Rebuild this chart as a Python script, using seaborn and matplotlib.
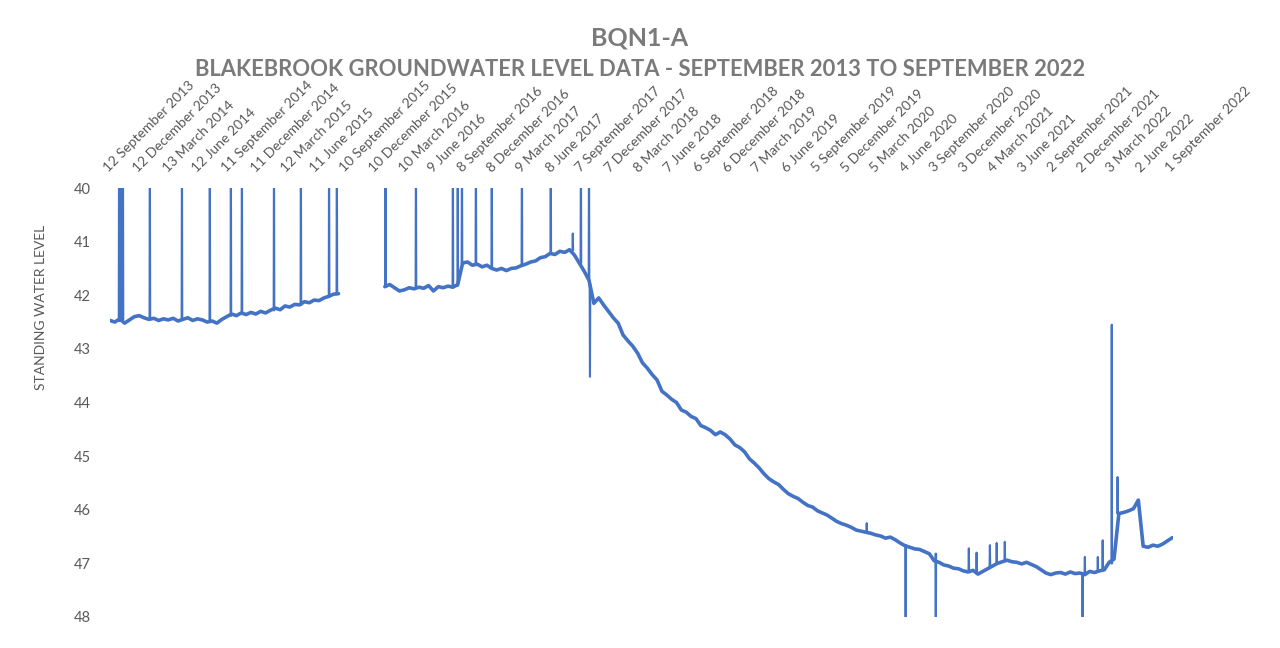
import pandas as pd
import seaborn as sns
import matplotlib.pyplot as plt
import matplotlib.dates as mdates

# Logger readings (every 15 days), day 0 = 12 Sep 2013
start = pd.Timestamp("2013-09-12")
step_days = 15

# first run, up to Aug 2015 (then a gap in the record)
seg_a_day0 = 0
seg_a_level = [42.47, 42.50, 42.44, 42.52, 42.46, 42.40, 42.38, 42.42, 42.45,
               42.43, 42.47, 42.44, 42.46, 42.43, 42.48, 42.45, 42.42, 42.47,
               42.44, 42.46, 42.50, 42.48, 42.52, 42.45, 42.40,
               42.35, 42.38, 42.33, 42.36, 42.32, 42.35, 42.30, 42.33, 42.28,
               42.24, 42.27, 42.20, 42.22, 42.17, 42.18, 42.12, 42.14, 42.09,
               42.10, 42.05, 42.02, 41.98, 41.97]

# second run, Jan 2016 to Sep 2022
seg_b_day0 = 848
seg_b_level = [41.84, 41.80, 41.86, 41.92, 41.90, 41.86, 41.88, 41.85, 41.87, 41.82,
               41.92, 41.84, 41.86, 41.83, 41.85, 41.80, 41.40, 41.38, 41.44, 41.42,
               41.47, 41.44, 41.50, 41.53, 41.50, 41.54, 41.50, 41.49, 41.45, 41.42,
               41.38, 41.36, 41.30, 41.28, 41.22, 41.24, 41.18, 41.20, 41.15, 41.25,
               41.40, 41.55, 41.72, 42.15, 42.05, 42.18, 42.30, 42.42, 42.52, 42.74,
               42.85, 42.95, 43.08, 43.26, 43.36, 43.48, 43.58, 43.79, 43.86, 43.94,
               44.00, 44.14, 44.18, 44.26, 44.30, 44.43, 44.47, 44.52, 44.60, 44.55,
               44.60, 44.68, 44.79, 44.84, 44.92, 45.05, 45.13, 45.22, 45.33, 45.42,
               45.48, 45.53, 45.62, 45.70, 45.75, 45.79, 45.86, 45.92, 45.95, 46.02,
               46.06, 46.10, 46.16, 46.22, 46.26, 46.29, 46.33, 46.38, 46.40, 46.42,
               46.44, 46.47, 46.49, 46.53, 46.51, 46.56, 46.62, 46.67, 46.70, 46.73,
               46.74, 46.78, 46.82, 46.95, 46.98, 47.03, 47.05, 47.09, 47.10, 47.14,
               47.16, 47.13, 47.20, 47.15, 47.10, 47.05, 47.00, 46.97, 46.94, 46.97,
               46.98, 47.01, 46.98, 47.02, 47.06, 47.12, 47.18, 47.21, 47.18, 47.17,
               47.20, 47.16, 47.19, 47.18, 47.21, 47.15, 47.17, 47.14, 47.12, 46.98,
               46.92, 46.07, 46.05, 46.02, 45.98, 45.82, 46.68, 46.70, 46.66, 46.68,
               46.64, 46.58, 46.52]

# single-reading spikes: day, surrounding level, spike level
spike_day = [28, 34, 40, 123, 222, 308, 373, 407, 506, 589, 676, 700,
             850, 944, 1058, 1073, 1086, 1129, 1178, 1271, 1360, 1428, 1453, 1478, 1481,
             2335, 2455, 2548, 2650, 2674, 2715, 2736, 2761, 3001, 3008, 3048, 3063,
             3091, 3109]
spike_base = [42.48, 42.48, 42.45, 42.42, 42.46, 42.48, 42.38, 42.35, 42.28, 42.18, 42.03, 41.98,
              41.84, 41.86, 41.85, 41.82, 41.40, 41.43, 41.50, 41.45, 41.22, 41.16, 41.40, 41.70, 41.80,
              46.40, 46.66, 46.82, 47.15, 47.18, 47.06, 47.00, 46.96, 47.18, 47.20, 47.15, 47.13,
              47.00, 46.07]
spike_peak = [39.0, 39.0, 39.0, 39.0, 39.0, 39.0, 39.0, 39.0, 39.0, 39.0, 39.0, 39.0,
              39.0, 39.0, 39.0, 39.0, 39.0, 39.0, 39.0, 39.0, 39.0, 40.85, 39.0, 39.0, 43.52,
              46.25, 49.0, 49.0, 46.72, 46.80, 46.66, 46.62, 46.60, 49.0, 46.88, 46.88, 46.57,
              42.55, 45.39]

tick_labels = ["12 September 2013", "12 December 2013", "13 March 2014", "12 June 2014",
               "11 September 2014", "11 December 2014", "12 March 2015", "11 June 2015",
               "10 September 2015", "10 December 2015", "10 March 2016", "9 June 2016",
               "8 September 2016", "8 December 2016", "9 March 2017", "8 June 2017",
               "7 September 2017", "7 December 2017", "8 March 2018", "7 June 2018",
               "6 September 2018", "6 December 2018", "7 March 2019", "6 June 2019",
               "5 September 2019", "5 December 2019", "5 March 2020", "4 June 2020",
               "3 September 2020", "3 December 2020", "4 March 2021", "3 June 2021",
               "2 September 2021", "2 December 2021", "3 March 2022", "2 June 2022",
               "1 September 2022"]

# baseline record (two runs) and spikes as separate little traces
rows = []
for i, v in enumerate(seg_a_level):
    rows.append((seg_a_day0 + i * step_days, v, "a"))
for i, v in enumerate(seg_b_level):
    rows.append((seg_b_day0 + i * step_days, v, "b"))
base = pd.DataFrame(rows, columns=["day", "level", "seg"])
base["date"] = start + pd.to_timedelta(base["day"], unit="D")

srows = []
for k, (d, b, p) in enumerate(zip(spike_day, spike_base, spike_peak)):
    srows += [(d - 1, b, k), (d, p, k), (d + 1, b, k)]
spikes = pd.DataFrame(srows, columns=["day", "level", "seg"])
spikes["date"] = start + pd.to_timedelta(spikes["day"], unit="D")

sns.set_style("white")
plt.rcParams["font.family"] = ["Lato", "DejaVu Sans"]

grey = "#595959"
blue = "#4472C4"
fig = plt.figure(figsize=(12.8, 6.48), dpi=100)
ax = fig.add_axes([110 / 1280, 1 - 617 / 648, 1063 / 1280, 429 / 648])

sns.lineplot(data=spikes, x="date", y="level", units="seg", estimator=None, sort=True,
             color=blue, linewidth=1.5, ax=ax)
sns.lineplot(data=base, x="date", y="level", units="seg", estimator=None, sort=True,
             color=blue, linewidth=2.6, ax=ax)

ax.set_ylim(48, 40)
ax.set_yticks(range(40, 49))
ax.set_xlim(start, start + pd.Timedelta(days=3280))
tick_dates = pd.date_range(start, periods=len(tick_labels), freq="91D")
ax.set_xticks(mdates.date2num(tick_dates.to_pydatetime()))
ax.xaxis.tick_top()
ax.set_xticklabels(tick_labels, rotation=45, ha="left", va="bottom", rotation_mode="anchor")
ax.tick_params(axis="x", length=0, pad=10, labelsize=10, labelcolor=grey)
ax.tick_params(axis="y", length=0, pad=14, labelsize=10.5, labelcolor=grey)
ax.set_xlabel("")
ax.set_ylabel("")
for s in ax.spines.values():
    s.set_visible(False)

fig.text(41 / 1280, 1 - 307 / 648, "STANDING WATER LEVEL", rotation=90,
         ha="center", va="center", fontsize=10, color=grey)
fig.text(0.5, 1 - 38 / 648, "BQN1-A", ha="center", va="center",
         fontsize=18, fontweight="bold", color="#7a7a7a")
fig.text(0.5, 1 - 70 / 648, "BLAKEBROOK GROUNDWATER LEVEL DATA - SEPTEMBER 2013 TO SEPTEMBER 2022",
         ha="center", va="center", fontsize=15.8, fontweight="bold", color="#7a7a7a")

fig.savefig("out.png", dpi=100, facecolor="white")
